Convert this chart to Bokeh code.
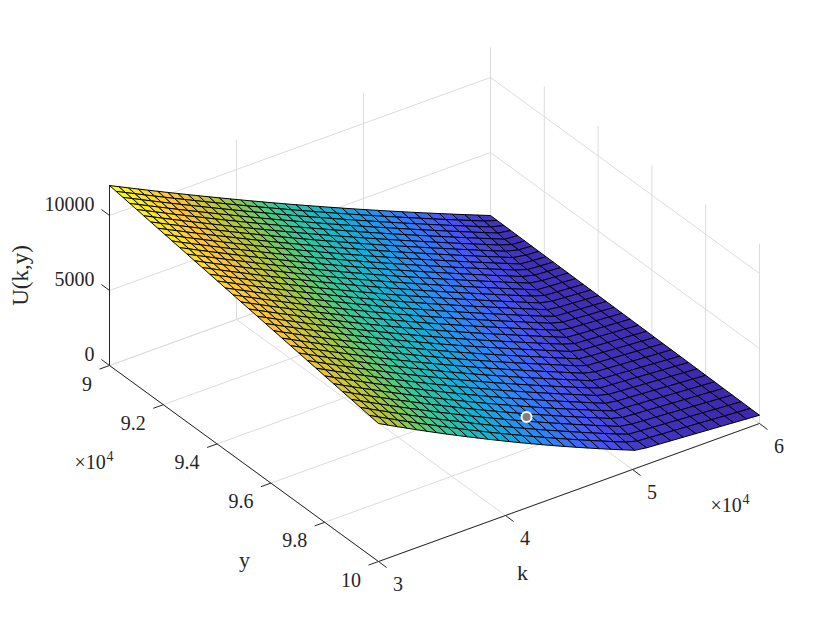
import numpy as np
from bokeh.plotting import figure
from bokeh.models import Range1d
from bokeh.core.properties import value
from bokeh.embed import file_html
from bokeh.resources import INLINE

k_grid = [30000,30745,31498,32259,33027,33812,34596,35388,36196,37004,37827,38651,39490,40337,41192,42047,42917,43796,44682,45576,46486,47396,48313,49239,50180,51121,52078,53035,54007,54988,55968,56964,57968,58980,60000]
y_grid = [90000,90248,90499,90753,91009,91271,91532,91796,92065,92335,92609,92884,93163,93446,93731,94016,94306,94599,94894,95192,95495,95799,96104,96413,96727,97040,97359,97678,98002,98329,98656,98988,99323,99660,100000]

# U(k, y): one list per k value, each running over y_grid
U_by_k = [
[12000,11931,11860,11789,11717,11644,11571,11497,11422,11346,11269,11192,11114,11035,10955,10876,10794,10712,10630,10546,10461,10376,10291,10204,10116,10029,9939,9850,9759,9668,9576,9483,9390,9295,9200],
[11693,11623,11552,11480,11407,11334,11259,11185,11108,11032,10955,10877,10798,10718,10638,10557,10475,10392,10309,10224,10138,10052,9966,9879,9790,9701,9611,9521,9429,9336,9244,9151,9055,8960,8864],
[11384,11314,11241,11169,11095,11021,10946,10871,10794,10716,10638,10560,10480,10399,10318,10236,10154,10070,9986,9900,9814,9727,9640,9552,9462,9373,9281,9191,9098,9004,8911,8817,8720,8624,8527],
[11073,11002,10929,10856,10782,10707,10631,10555,10477,10400,10321,10242,10161,10080,9998,9915,9832,9747,9663,9576,9489,9401,9314,9225,9134,9044,8952,8861,8766,8672,8578,8483,8386,8289,8191],
[10761,10689,10616,10542,10467,10392,10315,10239,10160,10082,10002,9923,9841,9759,9676,9593,9509,9423,9338,9251,9163,9074,8986,8896,8805,8714,8621,8529,8434,8339,8244,8148,8050,7952,7853],
[10443,10371,10296,10222,10147,10071,9994,9917,9837,9758,9678,9598,9516,9433,9350,9266,9181,9095,9009,8921,8832,8744,8655,8564,8472,8380,8286,8194,8098,8002,7907,7810,7711,7613,7513],
[10128,10055,9980,9906,9830,9753,9675,9598,9518,9438,9358,9277,9194,9111,9027,8943,8857,8770,8684,8595,8506,8416,8327,8235,8143,8050,7956,7863,7766,7670,7573,7476,7377,7277,7177],
[9812,9739,9663,9588,9512,9435,9356,9278,9198,9118,9037,8955,8872,8788,8704,8619,8533,8445,8358,8269,8179,8089,7999,7907,7814,7720,7625,7531,7434,7337,7240,7142,7042,6942,6841],
[9491,9417,9342,9266,9189,9111,9033,8954,8873,8793,8711,8629,8546,8461,8376,8290,8204,8116,8028,7939,7848,7757,7667,7574,7480,7387,7291,7196,7099,7001,6904,6805,6704,6604,6502],
[9170,9096,9020,8944,8866,8788,8709,8630,8549,8468,8386,8304,8219,8134,8049,7963,7876,7788,7700,7609,7518,7427,7336,7243,7149,7055,6958,6863,6765,6667,6569,6470,6368,6267,6165],
[8847,8773,8696,8620,8542,8464,8384,8305,8223,8142,8059,7977,7892,7806,7721,7634,7547,7458,7370,7279,7188,7096,7004,6911,6816,6722,6625,6529,6431,6332,6234,6134,6032,5931,5828],
[8524,8449,8372,8296,8218,8139,8059,7979,7898,7816,7733,7650,7565,7479,7393,7307,7219,7130,7041,6950,6858,6766,6674,6580,6485,6390,6293,6197,6098,5999,5900,5800,5698,5596,5493],
[8198,8123,8046,7969,7891,7812,7732,7652,7570,7487,7404,7321,7236,7150,7064,6976,6888,6799,6710,6619,6526,6434,6342,6248,6152,6057,5960,5863,5764,5665,5565,5465,5363,5260,5157],
[7869,7794,7717,7639,7561,7482,7402,7321,7239,7157,7073,6990,6905,6818,6732,6644,6556,6467,6377,6286,6193,6101,6008,5914,5818,5723,5625,5528,5429,5329,5230,5129,5026,4924,4820],
[7541,7466,7388,7311,7232,7153,7072,6992,6909,6827,6743,6660,6574,6488,6401,6313,6225,6135,6046,5954,5861,5768,5676,5581,5485,5389,5292,5195,5095,4995,4895,4795,4692,4589,4485],
[7214,7139,7061,6984,6905,6825,6745,6664,6582,6499,6416,6332,6246,6160,6073,5985,5897,5807,5717,5625,5533,5440,5347,5252,5156,5060,4962,4866,4766,4666,4566,4465,4362,4259,4155],
[6883,6808,6730,6653,6574,6494,6414,6333,6251,6168,6085,6001,5915,5829,5742,5654,5566,5476,5386,5294,5202,5109,5016,4921,4825,4729,4631,4535,4435,4335,4235,4134,4031,3928,3824],
[6551,6476,6398,6321,6242,6162,6082,6001,5919,5836,5753,5669,5583,5497,5410,5322,5234,5144,5054,4962,4870,4777,4684,4589,4493,4397,4299,4203,4103,4003,3903,3802,3699,3596,3493],
[6219,6144,6066,5989,5910,5830,5750,5669,5587,5504,5421,5337,5251,5165,5078,4990,4902,4812,4722,4630,4538,4445,4352,4257,4161,4065,3967,3871,3771,3671,3571,3470,3367,3264,3164],
[5885,5810,5733,5655,5577,5498,5418,5337,5255,5173,5089,5006,4921,4834,4748,4661,4572,4483,4394,4302,4210,4117,4025,3930,3835,3739,3642,3545,3446,3346,3246,3146,3043,2941,2837],
[5549,5474,5397,5320,5242,5163,5083,5003,4921,4839,4756,4672,4587,4501,4415,4328,4240,4151,4061,3970,3878,3786,3694,3599,3504,3409,3312,3215,3116,3017,2917,2817,2715,2612,2509],
[5213,5138,5062,4985,4907,4828,4749,4669,4587,4505,4422,4340,4255,4169,4083,3996,3908,3820,3731,3640,3548,3456,3364,3270,3175,3080,2984,2888,2789,2690,2591,2491,2389,2287,2184],
[4878,4804,4727,4651,4574,4495,4416,4336,4255,4174,4091,4009,3925,3839,3754,3667,3580,3492,3403,3313,3221,3130,3038,2945,2851,2756,2660,2564,2466,2367,2269,2169,2068,1966,1864],
[4541,4467,4391,4315,4238,4160,4081,4003,3922,3841,3759,3677,3593,3508,3423,3337,3250,3162,3074,2985,2894,2803,2712,2619,2525,2431,2335,2240,2142,2044,1947,1848,1747,1646,1544],
[4202,4129,4053,3978,3901,3824,3745,3667,3586,3506,3424,3343,3260,3175,3091,3005,2919,2832,2744,2655,2565,2474,2384,2291,2198,2105,2009,1915,1818,1720,1623,1525,1425,1324,1223],
[3865,3792,3717,3642,3566,3489,3411,3333,3253,3173,3092,3011,2928,2844,2760,2675,2589,2502,2415,2326,2236,2146,2057,1965,1872,1779,1684,1590,1494,1397,1300,1202,1122,1113,1105],
[3525,3452,3377,3303,3227,3150,3072,2995,2915,2835,2755,2674,2591,2508,2424,2339,2254,2167,2080,1992,1902,1813,1723,1632,1539,1447,1352,1259,1162,1087,1079,1070,1062,1053,1045],
[3187,3114,3040,2966,2890,2814,2736,2659,2579,2500,2420,2339,2257,2174,2090,2006,1921,1835,1748,1660,1571,1482,1393,1301,1209,1117,1051,1043,1035,1027,1019,1010,1002,993,985],
[2846,2774,2700,2626,2550,2474,2397,2320,2241,2162,2082,2002,1920,1838,1755,1671,1586,1500,1414,1326,1238,1149,1060,1014,1006,998,990,982,974,966,958,949,941,932,924],
[2505,2433,2359,2285,2211,2135,2058,1981,1903,1824,1744,1664,1583,1500,1418,1334,1250,1164,1079,991,976,968,960,953,945,937,929,921,913,905,897,888,880,871,863],
[2166,2094,2021,1947,1873,1797,1721,1645,1566,1488,1409,1329,1248,1166,1084,1000,944,937,930,922,915,907,899,892,884,876,868,860,852,844,836,827,819,810,802],
[1824,1753,1680,1607,1532,1457,1381,1305,1227,1149,1070,991,911,904,897,890,882,875,868,860,853,845,837,830,822,814,806,798,790,782,774,765,757,748,740],
[1482,1411,1338,1266,1192,1117,1041,966,889,869,862,855,848,841,834,827,819,812,805,797,790,782,774,767,759,751,743,735,727,719,711,702,694,685,677],
[1141,1070,998,926,852,832,826,819,812,806,799,792,785,778,771,764,756,749,742,734,727,719,711,704,696,688,680,672,664,656,648,639,631,622,614],
[800,794,788,781,775,768,762,755,748,742,735,728,721,714,707,700,692,685,678,670,663,655,647,640,632,624,616,608,600,592,584,575,567,559,550],
]

marker_k = [44200]
marker_y = [98800]
marker_u = [3710]

k_ticks = [30000, 40000, 50000, 60000]
k_tick_labels = ["3", "4", "5", "6"]
y_ticks = [90000, 92000, 94000, 96000, 98000, 100000]
y_tick_labels = ["9", "9.2", "9.4", "9.6", "9.8", "10"]
z_ticks = [0, 5000, 10000]
z_tick_labels = ["0", "5000", "10000"]

K0, K1, Y0, Y1, Z1 = 30000, 60000, 90000, 100000, 12000
parula_pos = [0, 1/7, 2/7, 3/7, 4/7, 5/7, 6/7, 1]
parula_rgb = [(.2422,.1504,.6603),(.2810,.3228,.9579),(.1786,.5289,.9682),(.0689,.6948,.8394),
              (.2161,.7843,.5923),(.6720,.7793,.2227),(.9970,.7659,.2199),(.9769,.9839,.0805)]

INK = "#262626"
GRID = "#dcdcdc"
FONT = value("Liberation Serif")


def proj(k, y, z=0.0):
    u = (np.asarray(k, float) - K0) / (K1 - K0)
    v = (np.asarray(y, float) - Y0) / (Y1 - Y0)
    return 109 + 381 * u + 269 * v, 365 - 138 * u + 196 * v - 0.015 * np.asarray(z, float)


def colour(z):
    t = (z - Umin) / (Umax - Umin)
    r, g, b = (np.interp(t, parula_pos, [c[n] for c in parula_rgb]) for n in range(3))
    return "#%02x%02x%02x" % (round(r * 255), round(g * 255), round(b * 255))


U = np.array(U_by_k, float)
Umin, Umax = U.min(), U.max()
KK, YY = np.meshgrid(k_grid, y_grid, indexing="ij")
PX, PY = proj(KK, YY, U)

p = figure(width=824, height=614, output_backend="svg", toolbar_location=None,
           x_range=Range1d(0, 824), y_range=Range1d(614, 0),
           x_axis_location=None, y_axis_location=None, min_border=0,
           outline_line_color=None, background_fill_color="white", border_fill_color="white")
p.grid.visible = False

# box grid: floor and the two back walls
gx, gy = [], []


def seg(a, b):
    x0, y0 = proj(*a)
    x1, y1 = proj(*b)
    gx.append([float(x0), float(x1)])
    gy.append([float(y0), float(y1)])


for k in k_ticks:
    seg((k, Y0, 0), (k, Y1, 0))
    seg((k, Y0, 0), (k, Y0, Z1))
for y in y_ticks:
    seg((K0, y, 0), (K1, y, 0))
    seg((K1, y, 0), (K1, y, Z1))
for z in z_ticks:
    seg((K0, Y0, z), (K1, Y0, z))
    seg((K1, Y0, z), (K1, Y1, z))
p.multi_line(gx, gy, line_color=GRID, line_width=1)

# axis rulers
ax, ay = [], []
for a, b in [((K0, Y0, 0), (K0, Y0, Z1)), ((K0, Y0, 0), (K0, Y1, 0)), ((K0, Y1, 0), (K1, Y1, 0))]:
    x0, y0 = proj(*a)
    x1, y1 = proj(*b)
    ax.append([float(x0), float(x1)])
    ay.append([float(y0), float(y1)])


def tick(k, y, z, dx, dy):
    x0, y0 = proj(k, y, z)
    ax.append([float(x0), float(x0) + dx])
    ay.append([float(y0), float(y0) + dy])
    return float(x0), float(y0)


lab_k_x, lab_k_y = [], []
for k in k_ticks:
    x0, y0 = tick(k, Y1, 0, 8, 6)
    lab_k_x.append(x0 + 19.5)
    lab_k_y.append(y0 + 22)
lab_y_x, lab_y_y = [], []
for y in y_ticks:
    x0, y0 = tick(K0, y, 0, -10, 3.6)
    lab_y_x.append(x0 - 17.5)
    lab_y_y.append(y0 + 18)
lab_z_x, lab_z_y = [], []
for z in z_ticks:
    x0, y0 = tick(K0, Y0, z, -8, -6)
    lab_z_x.append(x0 - 15)
    lab_z_y.append(y0 - 11.5)
p.multi_line(ax, ay, line_color=INK, line_width=1)

# surface
xs, ys, fills = [], [], []
for j in range(len(k_grid) - 1):
    for i in range(len(y_grid) - 1):
        xs.append([PX[j, i], PX[j + 1, i], PX[j + 1, i + 1], PX[j, i + 1]])
        ys.append([PY[j, i], PY[j + 1, i], PY[j + 1, i + 1], PY[j, i + 1]])
        fills.append(colour(U[j, i]))
p.patches(xs, ys, fill_color=fills, line_color="black", line_width=1)

mx, my = proj(marker_k, marker_y, marker_u)
p.scatter(mx, my, size=10, fill_color="#808080", line_color="white", line_width=2)


def txt(x, y, s, size="20px", align="center", angle=0.0):
    p.text(x, y, text=s, text_font=FONT, text_font_size=size, text_color=INK,
           text_align=align, text_baseline="middle", angle=angle)


txt(lab_k_x, lab_k_y, k_tick_labels)
txt(lab_y_x, lab_y_y, y_tick_labels, align="right")
txt(lab_z_x, lab_z_y, z_tick_labels, align="right")
txt([522], [572], ["k"], size="22px")
txt([244], [559], ["y"], size="22px")
txt([20], [275], ["U(k,y)"], size="23px", angle=np.pi / 2)
txt([74, 710], [461, 504], ["\u00d710", "\u00d710"], align="left")
txt([106, 742], [455, 498], ["4", "4"], size="14px", align="left")

open("out.html", "w").write(file_html(p, INLINE))
